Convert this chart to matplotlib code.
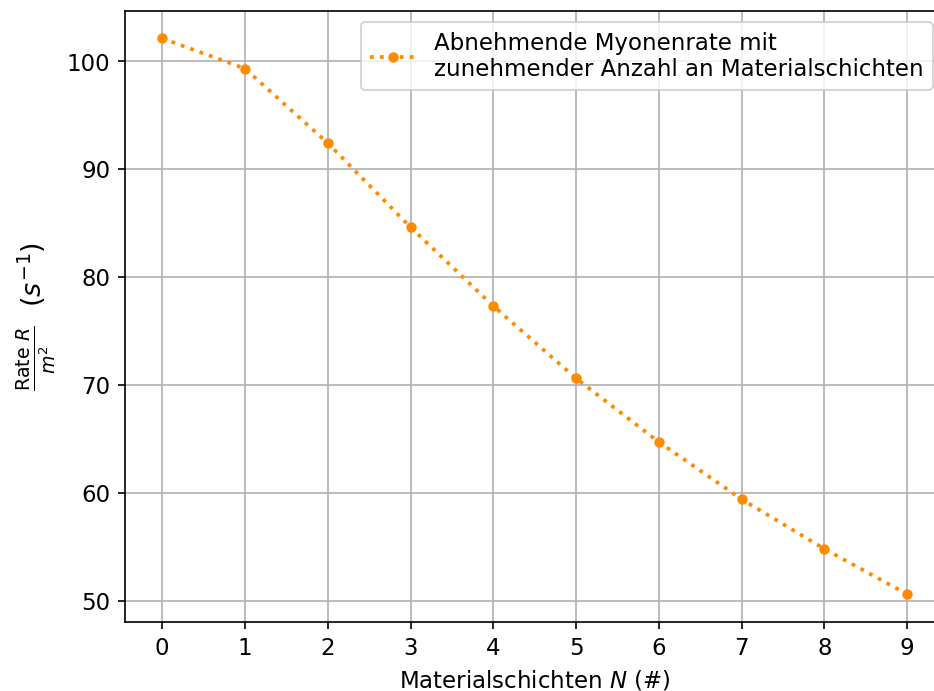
import matplotlib

matplotlib.use("Agg")
import matplotlib.pyplot as plt
import numpy as np

# Materialschichten und gemessene Rate pro Fläche
schichten = np.arange(10)
rate = [102.1, 99.3, 92.4, 84.6, 77.3, 70.6, 64.7, 59.4, 54.8, 50.6]

plt.rcParams["font.size"] = 11

fig, ax = plt.subplots(figsize=(6.23, 4.61), dpi=150)
ax.plot(schichten, rate, ":", color="darkorange", lw=1.8, marker="o", ms=4,
        label="Abnehmende Myonenrate mit\nzunehmender Anzahl an Materialschichten")
ax.set_xticks(schichten)
ax.set_xlabel(r"Materialschichten $N$ (#)")
ax.set_ylabel(r"$\frac{\mathrm{Rate}\ R}{m^2}\ \ (s^{-1})$", fontsize=13)
ax.grid(True)
ax.legend(loc="upper right")
# rechte Kante ist im Original abgeschnitten
fig.subplots_adjust(left=0.1337, right=1.0107, top=0.984, bottom=0.0997)
fig.savefig("out.png", dpi=150)
